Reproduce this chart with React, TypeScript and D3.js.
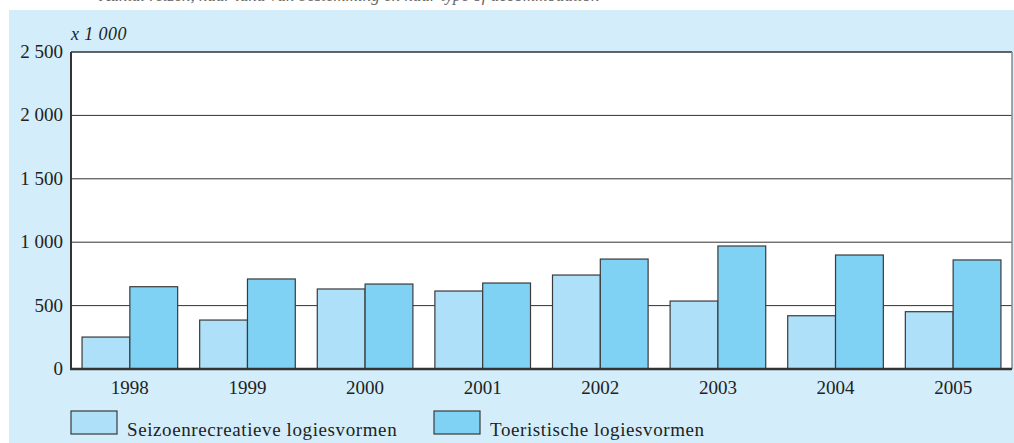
import React from "react";
import * as d3 from "d3";

const years = ["1998", "1999", "2000", "2001", "2002", "2003", "2004", "2005"];
const seizoen = [252, 386, 631, 615, 741, 536, 420, 452];
const toeristisch = [649, 710, 670, 678, 867, 970, 899, 860];
const yTicks = [0, 500, 1000, 1500, 2000, 2500];
const seriesNames = ["Seizoenrecreatieve logiesvormen", "Toeristische logiesvormen"];
const seriesColors = ["#aee0fa", "#80d2f5"];

const W = 1014;
const H = 443;
const left = 71;
const right = 1012;
const top = 52;
const bottom = 369;
const font = "'Liberation Serif', 'DejaVu Serif', serif";

const fmt = (v: number) => {
  const s = String(v);
  return s.length > 3 ? s.slice(0, s.length - 3) + " " + s.slice(-3) : s;
};

export default function App() {
  const x = d3.scaleBand<string>().domain(years).range([left, right]).paddingInner(0.187).paddingOuter(0.094);
  const y = d3.scaleLinear().domain([0, 2500]).range([bottom, top]);
  const bw = x.bandwidth() / 2;
  const series = [seizoen, toeristisch];

  return (
    <svg width={W} height={H} style={{ position: "absolute", left: 0, top: 0 }} fontFamily={font}>
      <rect x={9} y={10} width={W - 9} height={H - 10} fill="#d3eefa" />
      <text x={100} y={1} fontSize={17} fontStyle="italic" fill="#666">
        Aantal reizen, naar land van bestemming en naar type of accommodation
      </text>
      <rect x={left} y={top} width={right - left} height={bottom - top} fill="#fff" />
      {yTicks.slice(1, -1).map((t) => (
        <line key={t} x1={left} x2={right} y1={y(t)} y2={y(t)} stroke="#333" strokeWidth={1} />
      ))}
      {years.map((yr, i) =>
        series.map((s, j) => (
          <rect
            key={yr + j}
            x={(x(yr) as number) + j * bw}
            y={y(s[i])}
            width={bw}
            height={y(0) - y(s[i])}
            fill={seriesColors[j]}
            stroke="#3a3a3a"
            strokeWidth={1.2}
          />
        ))
      )}
      <line x1={left} x2={right} y1={top} y2={top} stroke="#333" strokeWidth={1.5} />
      <line x1={right} x2={right} y1={top} y2={bottom} stroke="#888" strokeWidth={1.5} />
      <line x1={left} x2={left} y1={top} y2={bottom} stroke="#333" strokeWidth={2} />
      <line x1={left - 1} x2={right} y1={bottom} y2={bottom} stroke="#333" strokeWidth={2.5} />
      {yTicks.map((t) => (
        <text key={t} x={63} y={y(t) + 6} textAnchor="end" fontSize={19} fill="#222">
          {fmt(t)}
        </text>
      ))}
      <text x={71} y={40} fontSize={18} fontStyle="italic" fill="#222" letterSpacing={0.4}>x 1 000</text>
      {years.map((yr) => (
        <text key={yr} x={(x(yr) as number) + x.bandwidth() / 2} y={394} textAnchor="middle" fontSize={19} fill="#222">
          {yr}
        </text>
      ))}
      {seriesNames.map((n, j) => (
        <g key={n} transform={`translate(${j === 0 ? 71 : 434},411)`}>
          <rect x={0} y={0} width={46} height={23} fill={seriesColors[j]} stroke="#3a3a3a" strokeWidth={1.2} />
          <text x={56} y={25} fontSize={19} fill="#222" letterSpacing={0.6}>{n}</text>
        </g>
      ))}
    </svg>
  );
}
